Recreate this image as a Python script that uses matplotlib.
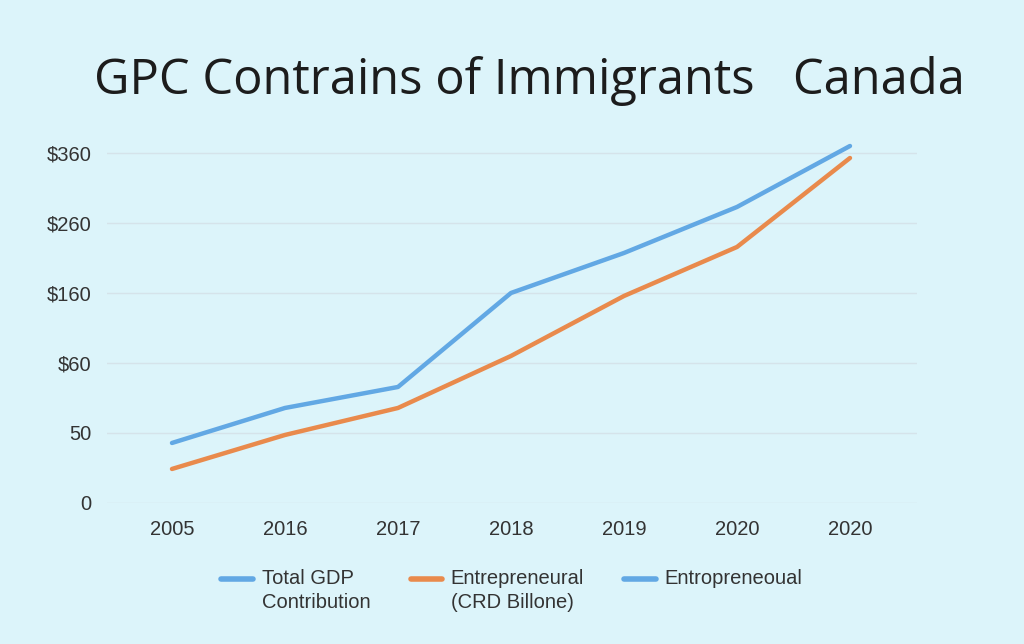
import matplotlib
matplotlib.use("Agg")
import matplotlib.pyplot as plt

years = ["2005", "2016", "2017", "2018", "2019", "2020", "2020"]
total_gdp = [60, 95, 116, 210, 250, 296, 357]
entrepreneurial = [34, 68, 95, 147, 207, 256, 345]
ytick_values = [0, 70, 140, 210, 280, 350]
ytick_labels = ["0", "50", "$60", "$160", "$260", "$360"]
title = "GPC Contrains of Immigrants   Canada"
labels = ["Total GDP\nContribution", "Entrepreneural\n(CRD Billone)", "Entropreneoual\n "]

bg = "#dcf4fa"
blue = "#62a8e4"
orange = "#e98a4c"

fig = plt.figure(figsize=(10.24, 6.44), dpi=100, facecolor=bg)
ax = fig.add_axes([0.1045, 0.219, 0.791, 0.5745], facecolor=bg)

x = list(range(len(years)))
l1, = ax.plot(x, total_gdp, color=blue, lw=3.2, solid_capstyle="round", zorder=3)
l2, = ax.plot(x, entrepreneurial, color=orange, lw=3.2, solid_capstyle="round", zorder=3)
l3, = ax.plot([], [], color=blue, lw=3.2)

ax.set_xlim(-0.575, 6.593)
ax.set_ylim(0, 370)
ax.set_yticks(ytick_values)
ax.set_yticklabels(ytick_labels)
ax.set_xticks(x)
ax.set_xticklabels(years)
for s in ax.spines.values():
    s.set_visible(False)
ax.grid(axis="y", color="#d5e3ea", lw=1.0)
ax.set_axisbelow(True)
ax.tick_params(axis="both", length=0, labelsize=14.5, colors="#333333")
ax.tick_params(axis="x", pad=12)
ax.tick_params(axis="y", pad=11)
for t in ax.get_xticklabels() + ax.get_yticklabels():
    t.set_fontfamily("Liberation Sans")

fig.text(0.5175, 0.874, title, ha="center", va="center", fontsize=35.2,
         fontfamily="Open Sans", color="#1c1c1c")

leg = fig.legend([l1, l2, l3], labels, loc="upper center", bbox_to_anchor=(0.5, 0.145),
                 ncol=3, frameon=False, prop={"family": "Liberation Sans", "size": 14.5},
                 handlelength=1.55, handletextpad=0.45, columnspacing=2.0, labelcolor="#333333")
for t in leg.get_texts():
    t.set_linespacing(1.35)
for h in leg.legend_handles:
    h.set_linewidth(4)
    h.set_solid_capstyle("round")
    yd = h.get_ydata()
    h.set_ydata([v + 8.8 for v in yd])

fig.savefig("out.png", dpi=100, facecolor=bg)
